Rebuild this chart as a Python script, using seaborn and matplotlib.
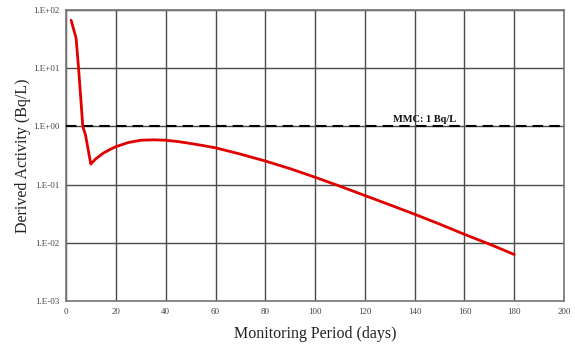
import numpy as np
import pandas as pd
import matplotlib
matplotlib.use("Agg")
import matplotlib.pyplot as plt
import matplotlib.ticker as mticker
import seaborn as sns

days = [2, 4, 5, 6, 6.7, 7.8, 9.9, 12, 15, 18, 20, 25, 30, 35, 40, 45, 50, 55, 60, 70, 80,
        90, 100, 110, 120, 130, 140, 150, 160, 170, 180]
activity = [67, 33, 10, 2.6, 1.0, 0.71, 0.226, 0.28, 0.35, 0.41, 0.45, 0.53, 0.58, 0.59,
            0.58, 0.55, 0.51, 0.47, 0.43, 0.335, 0.255, 0.188, 0.134, 0.094, 0.065, 0.045,
            0.031, 0.021, 0.014, 0.0095, 0.0063]
mmc_value = 1.0
mmc_label = "MMC: 1 Bq/L"
x_ticks = [0, 20, 40, 60, 80, 100, 120, 140, 160, 180, 200]
y_ticks = [1e-3, 1e-2, 1e-1, 1e0, 1e1, 1e2]
y_tick_labels = ["1.E-03", "1.E-02", "1.E-01", "1.E+00", "1.E+01", "1.E+02"]

df = pd.DataFrame({"days": days, "activity": activity})

sns.set_style("white")
plt.rcParams["font.family"] = ["Liberation Serif", "DejaVu Serif"]

fig = plt.figure(figsize=(5.75, 3.49), dpi=100)
ax = fig.add_axes([0.115, 0.1375, 0.866, 0.8335])

ax.set_yscale("log")
ax.set_xlim(0, 200)
ax.set_ylim(1e-3, 1e2)

ax.set_xticks(x_ticks)
ax.set_xticklabels([str(t) for t in x_ticks])
ax.set_yticks(y_ticks)
ax.set_yticklabels(y_tick_labels)
ax.xaxis.set_minor_locator(mticker.MultipleLocator(4))
ax.yaxis.set_minor_locator(mticker.LogLocator(base=10, subs=np.arange(2, 10), numticks=20))
ax.yaxis.set_minor_formatter(mticker.NullFormatter())

ax.grid(True, which="major", color="#4a4a4a", linewidth=1.0)
ax.set_axisbelow(True)

ax.tick_params(axis="both", which="major", direction="in", length=3, width=0.8,
               labelsize=6.5, colors="#555555", labelcolor="#444444", pad=5)
ax.tick_params(axis="both", which="minor", direction="in", length=2, width=0.6,
               colors="#555555")

for s in ax.spines.values():
    s.set_color("#777777")
    s.set_linewidth(1.2)

ax.axhline(mmc_value, color="black", linestyle=(0, (5, 3)), linewidth=1.5, zorder=3)
ax.text(144, mmc_value * 1.12, mmc_label, ha="center", va="bottom",
        fontsize=7.5, fontweight="bold", color="#111111")

sns.lineplot(data=df, x="days", y="activity", ax=ax, color="#e00000", linewidth=2.0,
             zorder=4)

ax.set_xlabel("Monitoring Period (days)", fontsize=11.5, color="#222222", labelpad=7)
ax.set_ylabel("Derived Activity (Bq/L)", fontsize=11.5, color="#222222", labelpad=1)

fig.savefig("out.png", dpi=100)
